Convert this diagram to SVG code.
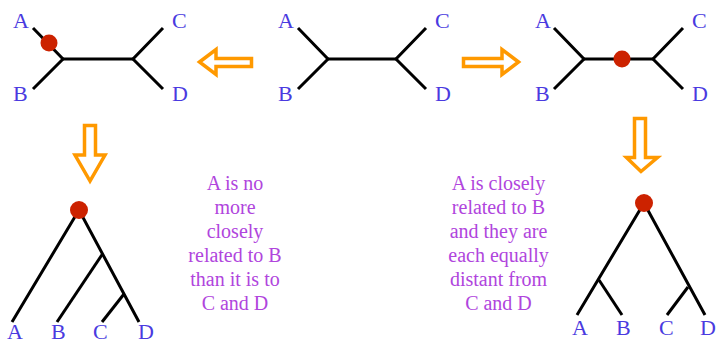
<svg xmlns="http://www.w3.org/2000/svg" width="717" height="344" viewBox="0 0 717 344">
<style>
.br{stroke:#000;stroke-width:3;fill:none;stroke-linecap:butt}
.dot{fill:#cc2200}
.lab{font-family:"Liberation Serif",serif;font-size:22px;fill:#4a3ae0}
.txt{font-family:"Liberation Serif",serif;font-size:20px;fill:#b045dd;text-anchor:middle}
.arr{fill:#fff;stroke:#ff9900;stroke-width:3.5;stroke-linejoin:miter}
</style>
<rect width="717" height="344" fill="#fff"/>
<g id="connectors">
<polyline class="br" points="33,28 63,59 33,89"/>
<line class="br" x1="63" y1="59" x2="133" y2="59"/>
<polyline class="br" points="163,28 133,59 163,89"/>
<polyline class="br" points="298,28 328,59 298,89"/>
<line class="br" x1="328" y1="59" x2="396" y2="59"/>
<polyline class="br" points="426,28 396,59 426,89"/>
<polyline class="br" points="554,28 584,59 554,89"/>
<line class="br" x1="584" y1="59" x2="653" y2="59"/>
<polyline class="br" points="683,28 653,59 683,89"/>
<polyline class="br" points="12,322 79,210 139,322"/>
<line class="br" x1="102.5" y1="254" x2="57" y2="322"/>
<line class="br" x1="124" y1="294" x2="102" y2="322"/>
<polyline class="br" points="577,315 644,203 705,315"/>
<line class="br" x1="599" y1="280" x2="622" y2="315"/>
<line class="br" x1="688" y1="287" x2="667" y2="315"/>
</g>
<g id="arrows">
<polygon class="arr" points="199.5,62 216,49.5 216,58.5 251.5,58.5 251.5,66.5 216,66.5 216,74.5"/>
<polygon class="arr" points="518.5,62 502,49.5 502,58.5 463.5,58.5 463.5,66.5 502,66.5 502,74.5"/>
<polygon class="arr" points="90,181 75,155 84.5,155 84.5,125.5 95.5,125.5 95.5,155 105,155"/>
<polygon class="arr" points="641,171.5 626.5,157.5 634.5,157.5 634.5,118.5 645.5,118.5 645.5,157.5 657.5,157.5"/>
</g>
<g id="dots">
<circle class="dot" cx="49" cy="43" r="8.5"/>
<circle class="dot" cx="622" cy="59" r="8.5"/>
<circle class="dot" cx="79" cy="210" r="9"/>
<circle class="dot" cx="644" cy="203" r="9"/>
</g>
<g id="labels">
<text class="lab" x="13" y="28">A</text>
<text class="lab" x="13" y="101">B</text>
<text class="lab" x="172" y="28">C</text>
<text class="lab" x="172" y="101">D</text>
<text class="lab" x="278" y="28">A</text>
<text class="lab" x="278" y="101">B</text>
<text class="lab" x="435" y="28">C</text>
<text class="lab" x="435" y="101">D</text>
<text class="lab" x="535" y="28">A</text>
<text class="lab" x="535" y="101">B</text>
<text class="lab" x="692" y="28">C</text>
<text class="lab" x="692" y="101">D</text>
<text class="lab" x="7" y="339">A</text>
<text class="lab" x="51" y="339">B</text>
<text class="lab" x="93" y="339">C</text>
<text class="lab" x="138" y="339">D</text>
<text class="lab" x="572" y="335">A</text>
<text class="lab" x="616" y="335">B</text>
<text class="lab" x="659" y="335">C</text>
<text class="lab" x="700" y="335">D</text>
</g>
<g id="text1">
<text class="txt" x="235" y="190">A is no</text>
<text class="txt" x="235" y="214">more</text>
<text class="txt" x="235" y="238">closely</text>
<text class="txt" x="235" y="262">related to B</text>
<text class="txt" x="235" y="286">than it is to</text>
<text class="txt" x="235" y="310">C and D</text>
</g>
<g id="text2">
<text class="txt" x="498.5" y="190">A is closely</text>
<text class="txt" x="498.5" y="214">related to B</text>
<text class="txt" x="498.5" y="238">and they are</text>
<text class="txt" x="498.5" y="262">each equally</text>
<text class="txt" x="498.5" y="286">distant from</text>
<text class="txt" x="498.5" y="310">C and D</text>
</g>
</svg>
